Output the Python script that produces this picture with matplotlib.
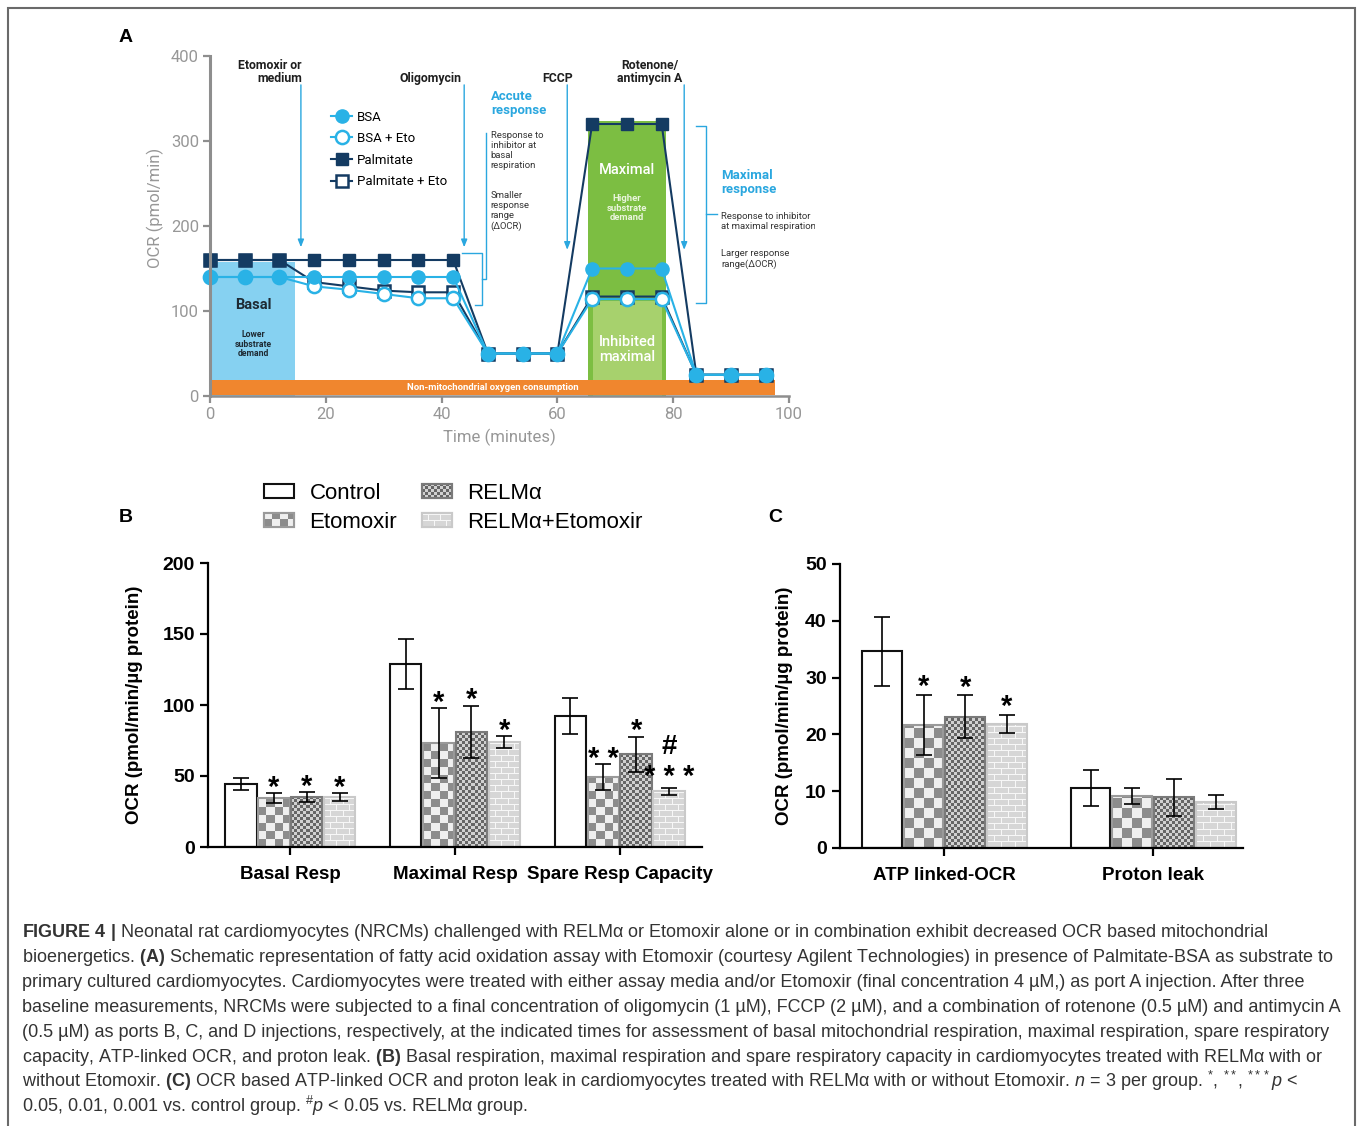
import numpy as np
import matplotlib
matplotlib.use("Agg")
import matplotlib.pyplot as plt
from matplotlib.patches import Rectangle, Patch
from matplotlib.transforms import Bbox, TransformedBbox, IdentityTransform

plt.rcParams["font.family"] = ["Liberation Sans", "DejaVu Sans"]
plt.rcParams["mathtext.fontset"] = "custom"
plt.rcParams["mathtext.rm"] = "Liberation Sans"
plt.rcParams["mathtext.it"] = "Liberation Sans:italic"
plt.rcParams["mathtext.bf"] = "Liberation Sans:bold"

# ---- panel A: schematic Seahorse FAO trace
time_min = [0, 6, 12, 18, 24, 30, 36, 42, 48, 54, 60, 66, 72, 78, 84, 90, 96]
ocr_bsa = [140, 140, 140, 140, 140, 140, 140, 140, 50, 50, 50, 150, 150, 150, 25, 25, 25]
ocr_bsa_eto = [140, 140, 140, 129, 125, 120, 115, 115, 50, 50, 50, 114, 114, 114, 25, 25, 25]
ocr_palm = [160, 160, 160, 160, 160, 160, 160, 160, 50, 50, 50, 320, 320, 320, 25, 25, 25]
ocr_palm_eto = [160, 160, 160, 134, 129, 124, 122, 122, 50, 50, 50, 117, 117, 117, 25, 25, 25]

injection_time = [15.7, 43.9, 61.7, 81.9]
injection_label = ["Etomoxir or\nmedium", "Oligomycin", "FCCP", "Rotenone/\nantimycin A"]

# ---- panel B
groups_b = ["Basal Resp", "Maximal Resp", "Spare Resp Capacity"]
treatments = ["Control", "Etomoxir", "RELMα", "RELMα+Etomoxir"]
mean_b = [[44.3, 34.3, 35.0, 35.2], [128.8, 73.1, 81.0, 74.1], [92.2, 49.2, 65.4, 39.2]]
err_b = [[4.1, 3.5, 3.5, 2.6], [17.5, 24.8, 18.5, 4.1], [12.6, 9.0, 12.3, 2.6]]
stars_b = [["", "*", "*", "*"], ["", "*", "*", "*"], ["", "**", "*", "***"]]
hash_b = [["", "", "", ""], ["", "", "", ""], ["", "", "", "#"]]

# ---- panel C
groups_c = ["ATP linked-OCR", "Proton leak"]
mean_c = [[34.6, 21.6, 23.1, 21.9], [10.6, 9.1, 8.9, 8.1]]
err_c = [[6.1, 5.3, 3.75, 1.6], [3.2, 1.4, 3.2, 1.25]]
stars_c = [["", "*", "*", "*"], ["", "", "", ""]]

W, H = 1358, 1126
fig = plt.figure(figsize=(W / 100, H / 100), dpi=100)


def fig_box(left, top, right, bottom):
    return [left / W, 1 - bottom / H, (right - left) / W, (bottom - top) / H]


NAVY = "#143b62"
SKY = "#29b2e6"
ANNOT = "#2aa7df"
AXGRAY = "#8e8e8e"
TXGRAY = "#979797"
RB = "Roboto"

# ================= A =================
ax = fig.add_axes(fig_box(210, 56, 789, 396))
ax.set_xlim(0, 100)
ax.set_ylim(0, 400)

ax.add_patch(Rectangle((0, 0), 14.7, 158, fc="#86d1f1", ec="none", zorder=1))
ax.add_patch(Rectangle((65.3, 0), 13.4, 324, fc="#7cbe42", ec="none", zorder=1))
ax.add_patch(Rectangle((66.2, 0), 11.8, 112, fc="#a7d16d", ec="none", zorder=1.2))
ax.add_patch(Rectangle((0, 1), 97.6, 18, fc="#f0862e", ec="none", zorder=2))

ax.plot(time_min, ocr_palm_eto, color=NAVY, lw=1.5, marker="s", ms=9, mfc="white", mec=NAVY,
        mew=1.8, clip_on=False, zorder=4, label="Palmitate + Eto")
ax.plot(time_min, ocr_palm, color=NAVY, lw=1.5, marker="s", ms=9, mfc=NAVY, mec=NAVY,
        clip_on=False, zorder=5, label="Palmitate")
ax.plot(time_min, ocr_bsa_eto, color=SKY, lw=1.5, marker="o", ms=9.5, mfc="white", mec=SKY,
        mew=1.8, clip_on=False, zorder=6, label="BSA + Eto")
ax.plot(time_min, ocr_bsa, color=SKY, lw=1.5, marker="o", ms=9.5, mfc=SKY, mec=SKY,
        clip_on=False, zorder=7, label="BSA")

h, l = ax.get_legend_handles_labels()
order = [3, 2, 1, 0]
ax.legend([h[i] for i in order], [l[i] for i in order], loc="upper left",
          bbox_to_anchor=(0.198, 0.859), frameon=False, borderpad=0,
          handlelength=1.6, handletextpad=0.35, labelspacing=0.65,
          prop={"family": RB, "size": 9.5})

# injections
label_x = [15.85, 38.1, 60.1, 76.0]
label_ha = ["right", "center", "center", "center"]
tips = [175, 175, 172, 172]
for t, lab, lx, ha, tip in zip(injection_time, injection_label, label_x, label_ha, tips):
    ax.annotate("", xy=(t, tip), xytext=(t, 366),
                arrowprops=dict(arrowstyle="-|>,head_length=0.45,head_width=0.18",
                                color=ANNOT, lw=1.0, shrinkA=0, shrinkB=0), zorder=3)
    ax.text(lx, 370, lab, ha=ha, va="baseline", fontsize=8.8, fontweight="bold",
            family=RB, color="#1f1f1f", linespacing=1.0, multialignment=ha)

# brackets
ax.plot([43.5, 47.0, 47.0, 45.8], [168, 168, 107, 107], color=ANNOT, lw=1, clip_on=False, zorder=2)
ax.plot([47.0, 47.75, 47.75], [137.6, 137.6, 309], color=ANNOT, lw=1, clip_on=False, zorder=2)
ax.plot([83.9, 85.7, 85.7, 83.9], [318, 318, 110, 110], color=ANNOT, lw=1, clip_on=False, zorder=2)
ax.plot([85.7, 87.6], [214, 214], color=ANNOT, lw=1, clip_on=False, zorder=2)

ax.text(48.5, 360, "Accute\nresponse", ha="left", va="top", fontsize=9.5, fontweight="bold",
        family=RB, color=ANNOT, linespacing=1.05)
ax.text(48.5, 312, "Response to\ninhibitor at\nbasal\nrespiration", ha="left", va="top",
        fontsize=6.8, family=RB, color="#333333", linespacing=1.15)
ax.text(48.5, 241, "Smaller\nresponse\nrange\n(ΔOCR)", ha="left", va="top",
        fontsize=6.8, family=RB, color="#333333", linespacing=1.15)
ax.text(88.3, 267, "Maximal\nresponse", ha="left", va="top", fontsize=9.5, fontweight="bold",
        family=RB, color=ANNOT, linespacing=1.05, clip_on=False)
t_clip = ax.text(88.3, 216, "Response to inhibitor\nat maximal respiration", ha="left", va="top",
                 fontsize=6.8, family=RB, color="#333333", linespacing=1.15)
t_clip.set_clip_box(TransformedBbox(Bbox([[0, 0], [104.5, 400]]), ax.transData))
t_clip.set_clip_on(True)
ax.text(88.3, 173, "Larger response\nrange(ΔOCR)", ha="left", va="top",
        fontsize=6.8, family=RB, color="#333333", linespacing=1.15)

ax.text(7.5, 107, "Basal", ha="center", va="center", fontsize=10.5, fontweight="bold",
        family=RB, color="#1e2a33", zorder=8)
ax.text(7.5, 61, "Lower\nsubstrate\ndemand", ha="center", va="center", fontsize=6.2,
        fontweight="bold", family=RB, color="#1e2a33", linespacing=1.1, zorder=8)
ax.text(72, 266, "Maximal", ha="center", va="center", fontsize=10.5, family=RB,
        fontweight="medium", color="white", zorder=8)
ax.text(72, 221, "Higher\nsubstrate\ndemand", ha="center", va="center", fontsize=6.8,
        fontweight="bold", family=RB, color="#eaf5dd", linespacing=1.1, zorder=8)
ax.text(72, 55, "Inhibited\nmaximal", ha="center", va="center", fontsize=10.5, family=RB,
        fontweight="medium", color="white", linespacing=1.1, zorder=8)
ax.text(48.9, 10.5, "Non-mitochondrial oxygen consumption", ha="center", va="center",
        fontsize=6.8, fontweight="bold", family=RB, color="white", zorder=8)

for s in ["top", "right"]:
    ax.spines[s].set_visible(False)
ax.spines["left"].set(color=AXGRAY, lw=2.2, zorder=10)
ax.spines["bottom"].set(color=AXGRAY, lw=1.8, zorder=10)
ax.set_xticks([0, 20, 40, 60, 80, 100])
ax.set_yticks([0, 100, 200, 300, 400])
ax.tick_params(colors=AXGRAY, labelcolor=TXGRAY, length=5, width=1.6, labelsize=12, pad=3)
for lb in ax.get_xticklabels() + ax.get_yticklabels():
    lb.set_family(RB)
ax.text(0.5, -0.097, "Time (minutes)", transform=ax.transAxes, ha="center", va="top",
        fontsize=12, family=RB, color=TXGRAY)
ax.text(-0.095, 0.553, "OCR (pmol/min)", transform=ax.transAxes, ha="center", va="center",
        rotation=90, fontsize=12, family=RB, color=TXGRAY)

# ================= B & C =================
STYLE = [
    dict(kind="none", edge="#111111"),
    dict(kind="check", edge="#9a9a9a"),
    dict(kind="fine", edge="#7a7a7a"),
    dict(kind="brick", edge="#c9c9c9"),
]


def pattern(kind, h, w, cell):
    yy, xx = np.mgrid[0:h, 0:w]
    img = np.ones((h, w, 3))
    if kind == "check":
        on = ((xx // cell + yy // cell) % 2) == 0
        img[on] = 0.55
        img[~on] = 0.94
    elif kind == "fine":
        on = ((xx // 3 + yy // 3) % 2) == 0
        img[on] = 0.40
        img[~on] = 0.82
    elif kind == "brick":
        row = yy // 6
        mortar = (yy % 6 == 0) | (((xx + (row % 2) * (cell // 2)) % cell) == 0)
        img[:] = 0.84
        img[mortar] = 0.97
    return img


def bar_panel(ax, groups, means, errs, xlim, ylim, yticks, cell, brick):
    ax.set_xlim(*xlim)
    ax.set_ylim(*ylim)
    width, pitch = 0.19, 0.2
    offs = [-1.5 * pitch, -0.5 * pitch, 0.5 * pitch, 1.5 * pitch]
    for gi, g in enumerate(groups):
        for ti in range(4):
            x = gi + offs[ti]
            v = means[gi][ti]
            st = STYLE[ti]
            if st["kind"] != "none":
                x0, x1 = x - width / 2, x + width / 2
                (p0x, p0y), (p1x, p1y) = ax.transData.transform([(x0, 0), (x1, v)])
                w = max(int(round(p1x - p0x)), 1)
                hh = max(int(round(p1y - p0y)), 1)
                c = brick if st["kind"] == "brick" else cell
                ax.imshow(pattern(st["kind"], hh, w, c), extent=(x0, x1, 0, v), origin="lower",
                          interpolation="nearest", aspect="auto", zorder=1)
            ax.bar(x, v, width, facecolor="white" if st["kind"] == "none" else "none",
                   edgecolor=st["edge"], lw=1.5, zorder=2)
            ax.errorbar(x, v, yerr=errs[gi][ti], fmt="none", ecolor="black", elinewidth=1.2,
                        capsize=6, capthick=1.2, zorder=4)
    ax.set_xlim(*xlim)
    ax.set_ylim(*ylim)
    for s in ["top", "right"]:
        ax.spines[s].set_visible(False)
    for s in ["left", "bottom"]:
        ax.spines[s].set_linewidth(1.6)
    ax.set_xticks(range(len(groups)))
    ax.set_xticklabels(groups, fontsize=13.5, fontweight="bold")
    ax.set_yticks(yticks)
    ax.set_yticklabels([str(v) for v in yticks], fontsize=14, fontweight="bold")
    ax.tick_params(length=5.5, width=1.6, pad=4)
    ax.tick_params(axis="x", pad=8)
    return offs


def mark(ax, x, top, text, dpx, size=21):
    ax.annotate(text, xy=(x, top), xytext=(0, dpx * 0.72), textcoords="offset points",
                ha="center", va="baseline", fontsize=size, fontweight="bold", zorder=6)


ax_b = fig.add_axes(fig_box(208, 563, 702, 847))
offs = bar_panel(ax_b, groups_b, mean_b, err_b, (-0.5, 2.5), (0, 200), [0, 50, 100, 150, 200], 8, 12)
for gi in range(len(groups_b)):
    for ti in range(4):
        top = mean_b[gi][ti] + err_b[gi][ti]
        s = stars_b[gi][ti]
        if s:
            mark(ax_b, gi + offs[ti], top, " ".join(s), 3 if len(s) == 3 else -2.5)
        if hash_b[gi][ti]:
            mark(ax_b, gi + offs[ti], top, hash_b[gi][ti], 33.5, size=20)

ax_c = fig.add_axes(fig_box(840, 564, 1243, 848))
offs = bar_panel(ax_c, groups_c, mean_c, err_c, (-0.5, 1.43), (0, 50), [0, 10, 20, 30, 40, 50], 10, 14)
for gi in range(len(groups_c)):
    for ti in range(4):
        s = stars_c[gi][ti]
        if s:
            mark(ax_c, gi + offs[ti], mean_c[gi][ti] + err_c[gi][ti], " ".join(s), 0)

ylab = "OCR (pmol/min/µg protein)"
fig.text(134.5 / W, 1 - 705 / H, ylab, rotation=90, ha="center", va="center",
         fontsize=13.5, fontweight="bold")
fig.text(785 / W, 1 - 706 / H, ylab, rotation=90, ha="center", va="center",
         fontsize=13.5, fontweight="bold")

# legend for B/C
handles = [Patch(facecolor="white", edgecolor=STYLE[i]["edge"], lw=1.5) for i in range(4)]
leg = fig.legend(handles, treatments, ncol=2, loc="upper left",
                 bbox_to_anchor=(264 / W, 1 - 483 / H), frameon=False, fontsize=16,
                 handlelength=1.35, handleheight=0.62, handletextpad=0.7,
                 columnspacing=1.1, labelspacing=0.35, borderpad=0, borderaxespad=0)

# panel letters
fig.text(126 / W, 1 - 38 / H, "A", ha="center", va="center", fontsize=14, fontweight="bold")
fig.text(126 / W, 1 - 518 / H, "B", ha="center", va="center", fontsize=14, fontweight="bold")
fig.text(775 / W, 1 - 518 / H, "C", ha="center", va="center", fontsize=14, fontweight="bold")

# caption
caption = [
    r"$\mathbf{FIGURE\ 4\ |}$ Neonatal rat cardiomyocytes (NRCMs) challenged with RELMα or Etomoxir alone or in combination exhibit decreased OCR based mitochondrial",
    r"bioenergetics. $\mathbf{(A)}$ Schematic representation of fatty acid oxidation assay with Etomoxir (courtesy Agilent Technologies) in presence of Palmitate-BSA as substrate to",
    "primary cultured cardiomyocytes. Cardiomyocytes were treated with either assay media and/or Etomoxir (final concentration 4 µM,) as port A injection. After three",
    "baseline measurements, NRCMs were subjected to a final concentration of oligomycin (1 µM), FCCP (2 µM), and a combination of rotenone (0.5 µM) and antimycin A",
    "(0.5 µM) as ports B, C, and D injections, respectively, at the indicated times for assessment of basal mitochondrial respiration, maximal respiration, spare respiratory",
    r"capacity, ATP-linked OCR, and proton leak. $\mathbf{(B)}$ Basal respiration, maximal respiration and spare respiratory capacity in cardiomyocytes treated with RELMα with or",
    r"without Etomoxir. $\mathbf{(C)}$ OCR based ATP-linked OCR and proton leak in cardiomyocytes treated with RELMα with or without Etomoxir. $\mathit{n}$ = 3 per group. $^{*}$, $^{**}$, $^{***}$$\mathit{p}$ <",
    r"0.05, 0.01, 0.001 vs. control group. $^{\#}\mathit{p}$ < 0.05 vs. RELMα group.",
]
for i, line in enumerate(caption):
    fig.text(22 / W, 1 - (937 + 25 * i) / H, line, ha="left", va="baseline",
             fontsize=12.95, color="#333333")

fig.add_artist(Rectangle((8 / W, -0.02), (1355 - 8) / W, 1 - 8 / H + 0.02,
                         transform=fig.transFigure, fill=False, ec="#6a6a6a", lw=1.5))

# pattern swatches into legend handles
fig.canvas.draw()
renderer = fig.canvas.get_renderer()
for i, hd in enumerate(leg.legend_handles):
    if STYLE[i]["kind"] == "none":
        continue
    bb = hd.get_window_extent(renderer)
    w, hh = int(round(bb.width)), int(round(bb.height))
    fig.figimage(pattern(STYLE[i]["kind"], hh, w, 8 if STYLE[i]["kind"] == "check" else 12),
                 xo=int(round(bb.x0)), yo=int(round(bb.y0)), origin="lower", zorder=6)
    fig.add_artist(Rectangle((bb.x0, bb.y0), bb.width, bb.height, transform=IdentityTransform(),
                             fill=False, ec=STYLE[i]["edge"], lw=1.5, zorder=7))

fig.savefig("out.png", dpi=100)
